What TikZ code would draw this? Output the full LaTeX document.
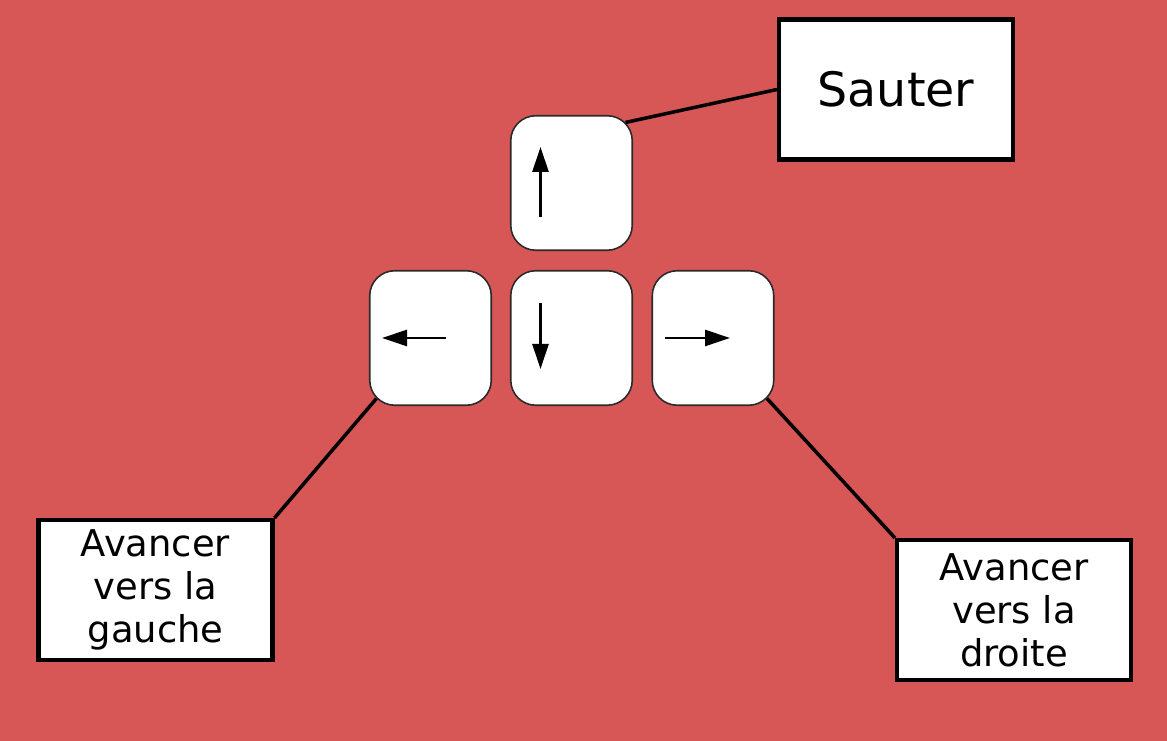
\documentclass[tikz,border=0pt]{standalone}
\usepackage{fontspec}
\setmainfont{DejaVu Sans}
\usetikzlibrary{arrows.meta,calc}
\definecolor{Brick}{HTML}{D75757}
\definecolor{KeyEdge}{HTML}{2A2A2A}
\tikzset{
  keybox/.style={draw=KeyEdge,line width=0.9pt,fill=white,rounded corners=0.5cm,minimum width=2.43cm,minimum height=2.69cm,inner sep=0pt},
  tagbox/.style={draw=black,line width=2.3pt,fill=white,minimum width=4.68cm,minimum height=2.8cm,align=center,font=\fontsize{21}{24.4}\selectfont},
  keyarrow/.style={line width=1.5pt,-{Triangle[length=0.5cm,width=0.32cm]}},
  leader/.style={line width=2pt}
}
\begin{document}
\begin{tikzpicture}
        \fill[Brick] (0,0) rectangle (23.34,14.82);
        \node[keybox] (up) at (11.43,11.16) {};
        \node[keybox] (left) at (8.61,8.06) {};
        \node[keybox] (down) at (11.43,8.06) {};
        \node[keybox] (right) at (14.26,8.06) {};
        \draw[keyarrow] ($(up.center)+(-0.62,-0.68)$) -- ($(up.center)+(-0.62,0.72)$);
        \draw[keyarrow] ($(left.center)+(0.31,0)$) -- ($(left.center)+(-0.97,0)$);
        \draw[keyarrow] ($(down.center)+(-0.62,0.70)$) -- ($(down.center)+(-0.62,-0.62)$);
        \draw[keyarrow] ($(right.center)+(-0.96,0)$) -- ($(right.center)+(0.34,0)$);
        \node[tagbox,font=\fontsize{27}{30}\selectfont] (sauter) at (17.92,13.03) {Sauter};
        \node[tagbox] (gauche) at (3.11,3.02) {Avancer\\vers la\\gauche};
        \node[tagbox] (droite) at (20.28,2.62) {Avancer\\vers la\\droite};
        \draw[leader] ($(up.north east)+(-0.15,-0.15)$) -- (sauter.west);
        \draw[leader] ($(left.south west)+(0.15,0.15)$) -- (gauche.north east);
        \draw[leader] ($(right.south east)+(-0.15,0.15)$) -- (droite.north west);
      \end{tikzpicture}
\end{document}
